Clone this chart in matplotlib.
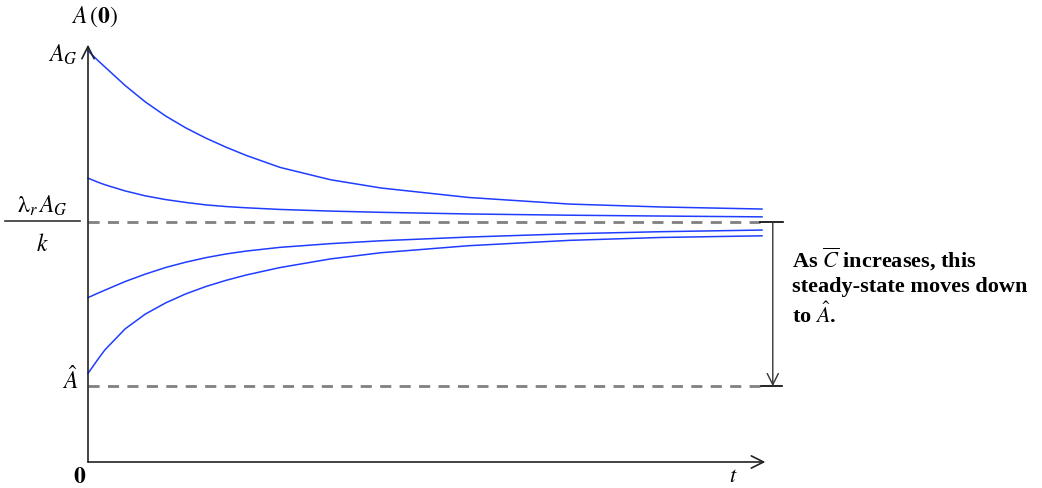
import numpy as np
import matplotlib.pyplot as plt

plt.rcParams['mathtext.fontset'] = 'stix'

# Time samples along the horizontal axis
t = [0, 0.15, 0.25, 0.55, 0.85, 1.15, 1.45, 1.75, 2.05, 2.35,
     2.85, 3.6, 4.35, 5.65, 7.15, 8.5, 10.0]

# Paths of A(t) from four starting points
path_from_AG = [99.8, 97.4, 95.9, 91.4, 87.4, 84.0, 81.1, 78.6, 76.4, 74.4,
                71.5, 68.5, 66.5, 64.2, 62.6, 61.9, 61.4]
path_upper = [68.9, 67.9, 67.3, 65.8, 64.6, 63.7, 63.0, 62.4, 62.0, 61.7,
              61.3, 60.9, 60.6, 60.2, 59.9, 59.7, 59.5]
path_lower = [39.9, 41.0, 41.7, 43.8, 45.6, 47.2, 48.5, 49.6, 50.5, 51.2,
              52.1, 53.0, 53.7, 54.6, 55.4, 55.9, 56.3]
path_from_Ahat = [21.5, 25.0, 27.2, 32.3, 35.9, 38.6, 40.8, 42.6, 44.1, 45.4,
                  47.2, 49.3, 50.8, 52.5, 53.8, 54.5, 54.9]

A_G = 100
steady_high = 58.3   # lambda_r * A_G / k
A_hat = 18.4

fig = plt.figure(figsize=(10.42, 4.88), dpi=100)
ax = fig.add_axes([88 / 1042, 26 / 488, 674 / 1042, 412 / 488])
ax.set_xlim(0, 10)
ax.set_ylim(0, 100)
ax.axis('off')

blue = '#1f3dff'
for path in [path_from_AG, path_upper, path_lower, path_from_Ahat]:
    ax.plot(t, path, color=blue, lw=1.1, clip_on=False)

# dashed steady-state levels
for level in [steady_high, A_hat]:
    ax.plot([0, 9.97], [level, level], color='#808080', lw=2,
            dashes=(4, 3), clip_on=False)

# axes with open arrowheads
arrow = dict(arrowstyle='->', color='#222222', lw=1.2,
             mutation_scale=22, shrinkA=0, shrinkB=0)
ax.annotate('', xy=(0, 101.3), xytext=(0, 0), arrowprops=arrow,
            annotation_clip=False)
ax.annotate('', xy=(10.05, 0), xytext=(0, 0), arrowprops=arrow,
            annotation_clip=False)

# bracket showing the steady state moving down
ax.plot([9.97, 10.31], [steady_high, steady_high], color='black', lw=1.2, clip_on=False)
ax.plot([9.98, 10.30], [A_hat, A_hat], color='black', lw=1.2, clip_on=False)
ax.annotate('', xy=(10.16, A_hat), xytext=(10.16, steady_high),
            arrowprops=dict(arrowstyle='->', color='#333333', lw=1.0,
                            mutation_scale=20, shrinkA=0, shrinkB=0),
            annotation_clip=False)

ax.text(10.45, 52.6, 'As $\\overline{C}$ increases, this\nsteady-state moves down\nto $\\hat{A}$.',
        family='Liberation Serif', weight='bold', fontsize=16,
        ha='left', va='top', linespacing=1.28)

# axis labels
ax.text(0.1, 108.0, '$A\\,(\\mathbf{0})$', fontsize=17, ha='center', va='center')
ax.text(-0.15, 98.8, '$A_G$', fontsize=17, ha='right', va='center')

# lambda_r A_G / k as a stacked fraction
ax.text(-0.68, 62.2, '$\\mathrm{\\lambda}_r\\,A_G$', fontsize=17, ha='center', va='center')
ax.plot([-1.23, -0.12], [58.5, 58.5], color='#333333', lw=1.2, clip_on=False)
ax.text(-0.68, 53.0, '$k$', fontsize=17, ha='center', va='center')

ax.text(-0.27, 19.8, '$\\hat{A}$', fontsize=17, ha='center', va='center')
ax.text(-0.12, -3.3, '$\\mathbf{0}$', fontsize=17, ha='center', va='center')
ax.text(9.58, -3.4, '$t$', fontsize=16, ha='center', va='center')

fig.savefig('out.png', dpi=100)
